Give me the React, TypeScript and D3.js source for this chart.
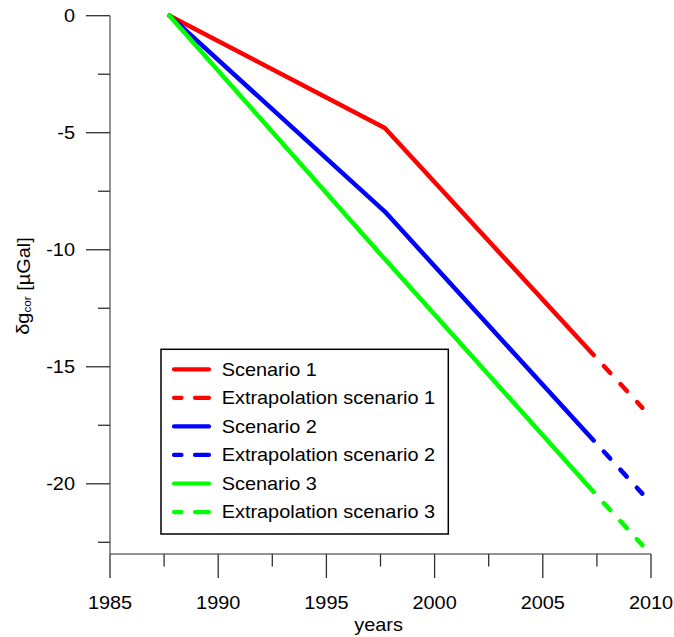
import React from "react";
import * as d3 from "d3";

const solidYears = [1987.75, 1997.7, 2007.35];
const scenario1 = [0, -4.8, -14.5];
const scenario2 = [0, -8.37, -18.15];
const scenario3 = [0, -10.4, -20.35];
const extraYears = [2007.35, 2009.6];
const extra1 = [-14.5, -16.75];
const extra2 = [-18.15, -20.42];
const extra3 = [-20.35, -22.62];

const xMajorTicks = [1985, 1990, 1995, 2000, 2005, 2010];
const xMinorTicks = [1987.5, 1992.5, 1997.5, 2002.5, 2007.5];
const yMajorTicks = [0, -5, -10, -15, -20];
const yMinorTicks = [-2.5, -7.5, -12.5, -17.5, -22.5];

const legendLabels = [
  "Scenario 1",
  "Extrapolation scenario 1",
  "Scenario 2",
  "Extrapolation scenario 2",
  "Scenario 3",
  "Extrapolation scenario 3",
];
const colors = ["#ff0000", "#0000ff", "#00ff00"];

const FONT = "'Liberation Sans', Arial, sans-serif";
const FS = 18.6;
const SX = 1.07;

function T({ x, y, anchor = "start", children }: any) {
  return (
    <g transform={`translate(${x},${y}) scale(${SX},1)`}>
      <text x={0} y={0} textAnchor={anchor} dominantBaseline="central" fontFamily={FONT} fontSize={FS} fill="#000">
        {children}
      </text>
    </g>
  );
}

export default function App() {
  const x = d3.scaleLinear().domain([1985, 2010]).range([110, 651]);
  const y = d3.scaleLinear().domain([-23, 0]).range([554, 15.7]);
  const line = d3
    .line<[number, number]>()
    .x((d) => x(d[0]))
    .y((d) => y(d[1]));

  const solids = [scenario1, scenario2, scenario3].map((s) =>
    solidYears.map((yr, i) => [yr, s[i]] as [number, number])
  );
  const extras = [extra1, extra2, extra3].map((s) =>
    extraYears.map((yr, i) => [yr, s[i]] as [number, number])
  );

  const lw = 4.5;
  const dash = "9.5 15";
  const y0 = y(-23);
  const xLeft = x(1985);

  const legX = 161, legY = 349.3, legW = 287.3, legH = 184.7;
  const rowY0 = 369.3, rowDy = 28.55;

  return (
    <svg width={674} height={637} style={{ position: "absolute", left: 0, top: 0, background: "#fff" }}>
      {/* axes */}
      <line x1={xLeft} x2={xLeft} y1={y(0)} y2={y0} stroke="#707070" strokeWidth={1.5} />
      <line x1={xLeft} x2={x(2010)} y1={y0} y2={y0} stroke="#707070" strokeWidth={1.5} />
      {yMajorTicks.map((t) => (
        <g key={"ym" + t}>
          <line x1={xLeft - 24} x2={xLeft} y1={y(t)} y2={y(t)} stroke="#303030" strokeWidth={1.3} />
          <T x={xLeft - 35} y={y(t)} anchor="end">{t}</T>
        </g>
      ))}
      {yMinorTicks.map((t) => (
        <line key={"yn" + t} x1={xLeft - 12} x2={xLeft} y1={y(t)} y2={y(t)} stroke="#303030" strokeWidth={1.3} />
      ))}
      {xMajorTicks.map((t) => (
        <g key={"xm" + t}>
          <line x1={x(t)} x2={x(t)} y1={y0} y2={y0 + 24} stroke="#303030" strokeWidth={1.3} />
          <T x={x(t)} y={603} anchor="middle">{t}</T>
        </g>
      ))}
      {xMinorTicks.map((t) => (
        <line key={"xn" + t} x1={x(t)} x2={x(t)} y1={y0} y2={y0 + 12.5} stroke="#303030" strokeWidth={1.3} />
      ))}
      <T x={(x(1985) + x(2010)) / 2 - 2} y={625} anchor="middle">years</T>
      <g transform={`translate(23,286) rotate(-90) scale(${SX},1)`}>
        <text x={0} y={0} textAnchor="middle" dominantBaseline="central" fontFamily={FONT} fontSize={FS} fill="#000">
          δg<tspan fontSize={11} dy={4}>cor</tspan>
          <tspan dy={-4}> [µGal]</tspan>
        </text>
      </g>

      {/* data lines */}
      {solids.map((d, i) => (
        <path key={"s" + i} d={line(d) || ""} fill="none" stroke={colors[i]} strokeWidth={lw} strokeLinecap="round" strokeLinejoin="round" />
      ))}
      {extras.map((d, i) => (
        <path key={"e" + i} d={line(d) || ""} fill="none" stroke={colors[i]} strokeWidth={lw} strokeLinecap="round" strokeDasharray={dash} strokeDashoffset={9.5} />
      ))}

      {/* legend */}
      <rect x={legX} y={legY} width={legW} height={legH} fill="#fff" stroke="#000" strokeWidth={1.5} />
      {legendLabels.map((lab, i) => {
        const cy = rowY0 + i * rowDy;
        const c = colors[Math.floor(i / 2)];
        const dashed = i % 2 === 1;
        return (
          <g key={"l" + i}>
            <line x1={174} x2={209} y1={cy} y2={cy} stroke={c} strokeWidth={4.2} strokeLinecap="round" strokeDasharray={dashed ? "7.5 13.5 14 100" : undefined} />
            <T x={221.7} y={cy}>{lab}</T>
          </g>
        );
      })}
    </svg>
  );
}
